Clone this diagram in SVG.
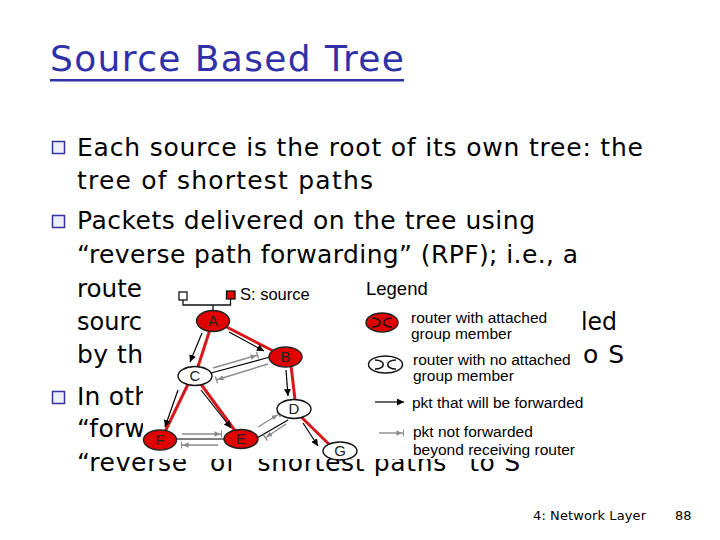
<svg xmlns="http://www.w3.org/2000/svg" width="720" height="540" viewBox="0 0 720 540">
<defs>
<style>
.body{font-family:"DejaVu Sans",sans-serif;font-size:25px;fill:#000}
.title{font-family:"DejaVu Sans",sans-serif;font-size:36px;fill:#3030a8}
.foot{font-family:"DejaVu Sans",sans-serif;font-size:13px;fill:#000}
.lg{font-family:"Liberation Sans",Arial,sans-serif;font-size:15.5px;fill:#000}
.nl{font-family:"Liberation Sans",Arial,sans-serif;font-size:15px;fill:#222;text-anchor:middle}
.bul{fill:#eeeefa;stroke:#3333a0;stroke-width:1.5}
.tree{stroke:#d81818;stroke-width:3;fill:none}
.fw{stroke:#000;stroke-width:1.2;fill:none;marker-end:url(#ab)}
.nf{stroke:#8a8a8a;stroke-width:1.4;fill:none;marker-end:url(#ag)}
.lnk{stroke:#000;stroke-width:1.2;fill:none}
.red{fill:#e00000;stroke:#222;stroke-width:1.4}
.wht{fill:#fff;stroke:#111;stroke-width:1.4}
.sym{fill:none;stroke:#111;stroke-width:1.6}
</style>
<marker id="ab" viewBox="0 0 8 8" refX="8" refY="4" markerWidth="7" markerHeight="7" markerUnits="userSpaceOnUse" orient="auto">
<path d="M0,0 L8,4 L0,8 z" fill="#000"/>
</marker>
<marker id="ag" viewBox="0 0 9 8" refX="8.5" refY="4" markerWidth="8" markerHeight="8" markerUnits="userSpaceOnUse" orient="auto">
<path d="M0,1 L6.5,4 L0,7 z" fill="#8a8a8a"/>
<path d="M8,0 L8,8" stroke="#8a8a8a" stroke-width="1.4"/>
</marker>
</defs>
<rect width="720" height="540" fill="#fff"/>

<g id="title">
<text class="title" x="50" y="71" textLength="354" lengthAdjust="spacing">Source Based Tree</text>
<rect x="50" y="79" width="354" height="2.5" fill="#3030a8"/>
</g>

<g id="bullets">
<rect class="bul" x="52.5" y="141.5" width="12" height="12"/>
<rect class="bul" x="52.5" y="215.5" width="12" height="12"/>
<rect class="bul" x="52.5" y="391.5" width="12" height="12"/>
</g>

<g id="body-text">
<text class="body" x="77" y="156" textLength="566" lengthAdjust="spacing">Each source is the root of its own tree: the</text>
<text class="body" x="77" y="189" textLength="296" lengthAdjust="spacing">tree of shortest paths</text>
<text class="body" x="77" y="229" textLength="458" lengthAdjust="spacing">Packets delivered on the tree using</text>
<text class="body" x="77" y="263" textLength="501" lengthAdjust="spacing">“reverse path forwarding” (RPF); i.e., a</text>
<text class="body" x="77" y="297" textLength="65" lengthAdjust="spacingAndGlyphs">route</text>
<text class="body" x="77" y="330" textLength="65" lengthAdjust="spacingAndGlyphs">sourc</text>
<text class="body" x="581" y="330" textLength="36" lengthAdjust="spacingAndGlyphs">led</text>
<text class="body" x="77" y="363" textLength="66" lengthAdjust="spacing">by th</text>
<text class="body" x="583" y="363" textLength="41" lengthAdjust="spacing">o S</text>
<text class="body" x="77" y="405" textLength="73" lengthAdjust="spacing">In oth</text>
<text class="body" x="77" y="437" textLength="68" lengthAdjust="spacing">“forw</text>
<text class="body" x="77" y="471" textLength="443" lengthAdjust="spacing">“reverse” of “shortest paths” to S</text>
</g>

<rect id="figure-bg" x="143" y="283" width="437" height="176" fill="#fff"/>

<g id="source-marker">
<rect x="179" y="292" width="8" height="8" fill="#fff" stroke="#111" stroke-width="1.3"/>
<rect x="226.5" y="291" width="8.5" height="8" fill="#e00000" stroke="#111" stroke-width="1.3"/>
<path d="M183,300 L183,305 L230.5,305 L230.5,299 M213,305 L213,311" fill="none" stroke="#111" stroke-width="1.3"/>
<text class="lg" x="240" y="300" style="font-size:16.5px">S: source</text>
</g>

<g id="connectors">
<line class="tree" x1="213" y1="320" x2="195" y2="376"/>
<line class="tree" x1="191" y1="378" x2="161" y2="440"/>
<line class="tree" x1="213" y1="320" x2="285" y2="357"/>
<line class="tree" x1="290" y1="357" x2="296" y2="408"/>
<line class="tree" x1="195" y1="376" x2="241" y2="439"/>
<line class="tree" x1="292" y1="408" x2="338" y2="453"/>

<line class="lnk" x1="211" y1="373" x2="270" y2="357"/>
<line class="lnk" x1="176" y1="439" x2="226" y2="439"/>
<line class="lnk" x1="288" y1="420" x2="257" y2="438"/>

<line class="fw" x1="202" y1="333" x2="190" y2="362"/>
<line class="fw" x1="229" y1="332" x2="264" y2="351"/>
<line class="fw" x1="286" y1="370" x2="288" y2="396"/>
<line class="fw" x1="178" y1="390" x2="165" y2="427"/>
<line class="fw" x1="201" y1="390" x2="231" y2="428"/>
<line class="fw" x1="303" y1="423" x2="318" y2="446"/>

<line class="nf" x1="213" y1="368" x2="258" y2="355"/>
<line class="nf" x1="268" y1="364" x2="216" y2="380"/>
<line class="nf" x1="182" y1="434" x2="222" y2="434"/>
<line class="nf" x1="218" y1="445" x2="181" y2="445"/>
<line class="nf" x1="258" y1="427" x2="279" y2="414"/>
<line class="nf" x1="286" y1="424" x2="265" y2="438"/>
</g>

<g id="node-A"><ellipse class="red" cx="213" cy="321" rx="16.5" ry="10.5"/><text class="nl" x="213" y="326">A</text></g>
<g id="node-B"><ellipse class="red" cx="285.5" cy="357" rx="16.5" ry="10"/><text class="nl" x="285.5" y="362">B</text></g>
<g id="node-C"><ellipse class="wht" cx="195" cy="376" rx="17" ry="9.5"/><text class="nl" x="195" y="381">C</text></g>
<g id="node-D"><ellipse class="wht" cx="294" cy="409" rx="17" ry="9.5"/><text class="nl" x="294" y="414">D</text></g>
<g id="node-E"><ellipse class="red" cx="241" cy="439" rx="17" ry="9.5"/><text class="nl" x="241" y="444">E</text></g>
<g id="node-F"><ellipse class="red" cx="160" cy="440" rx="16.5" ry="10"/><text class="nl" x="160" y="445">F</text></g>
<g id="node-G"><ellipse class="wht" cx="340" cy="451" rx="17" ry="9"/><text class="nl" x="340" y="456">G</text></g>

<g id="legend">
<text class="lg" x="366" y="295" style="font-size:18.5px">Legend</text>
<ellipse class="red" cx="382" cy="322.5" rx="16" ry="9.5"/>
<path class="sym" d="M372,318 C383,318 383,327 372,327 M392,318 C381,318 381,327 392,327"/>
<text class="lg" x="411" y="323">router with attached</text>
<text class="lg" x="411" y="339">group member</text>
<ellipse class="wht" cx="385.5" cy="364.5" rx="17" ry="8.5"/>
<path class="sym" d="M375,360 C386,360 386,369 375,369 M396,360 C385,360 385,369 396,369"/>
<text class="lg" x="413" y="365">router with no attached</text>
<text class="lg" x="413" y="381">group member</text>
<line class="fw" x1="375" y1="402" x2="404" y2="402"/>
<text class="lg" x="412" y="408">pkt that will be forwarded</text>
<line class="nf" x1="379" y1="433" x2="404" y2="433"/>
<text class="lg" x="413" y="437">pkt not forwarded</text>
<text class="lg" x="413" y="455">beyond receiving router</text>
</g>

<g id="footer">
<text class="foot" x="533" y="520" textLength="113" lengthAdjust="spacing">4: Network Layer</text>
<text class="foot" x="675" y="520">88</text>
</g>
</svg>
